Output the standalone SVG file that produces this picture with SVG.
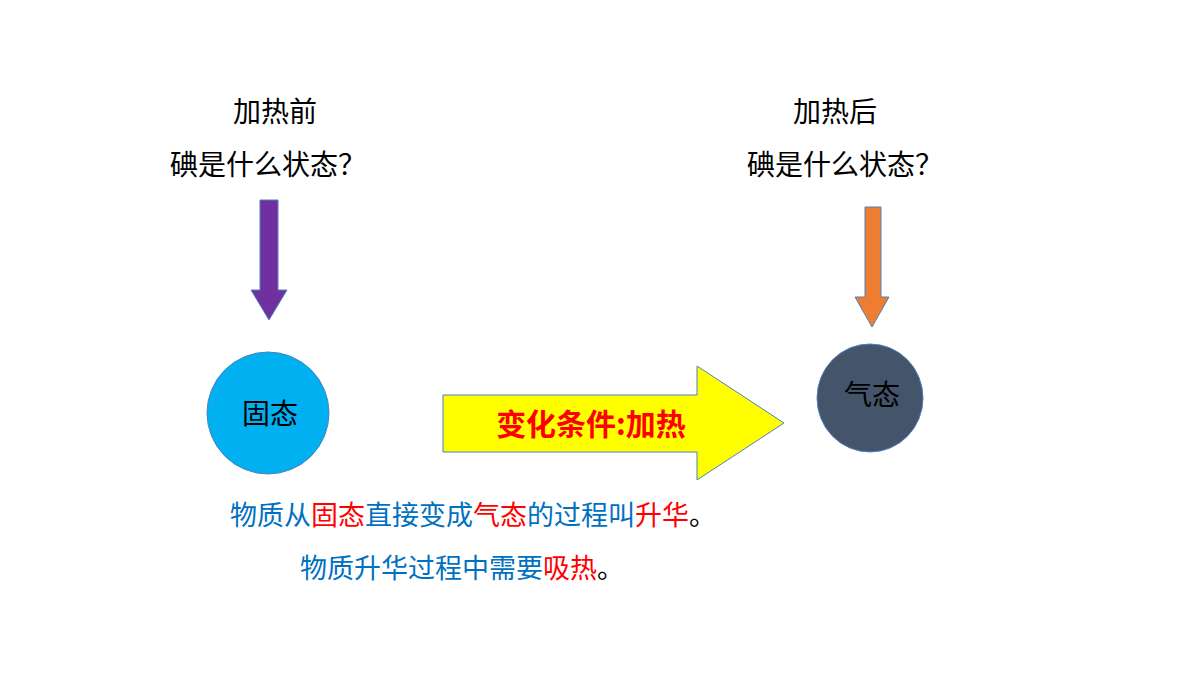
<svg xmlns="http://www.w3.org/2000/svg" width="1200" height="675" viewBox="0 0 1200 675">
<style>
.t{font-family:"Noto Sans CJK SC","Noto Serif CJK SC",serif;font-size:28px;fill:#000}
.b{font-family:"Noto Sans CJK SC",sans-serif;font-size:27px;fill:#0070c0}
.r{fill:#ff0000}
</style>
<rect width="1200" height="675" fill="#fff"/>
<g id="labels">
<text class="t" x="275" y="122" text-anchor="middle">加热前</text>
<text class="t" x="268" y="175" text-anchor="middle">碘是什么状态？</text>
<text class="t" x="835" y="122" text-anchor="middle">加热后</text>
<text class="t" x="845" y="175" text-anchor="middle">碘是什么状态？</text>
</g>
<g id="connectors">
<polygon points="260,200 278,200 278,290 287,290 269,320 251,290 260,290" fill="#7030a0" stroke="#4f81bd" stroke-width="1"/>
<polygon points="865,207 881,207 881,297 889,297 872,327 855,297 865,297" fill="#ed7d31" stroke="#4f81bd" stroke-width="1"/>
<polygon points="443,395 697,395 697,366 784,423 697,480 697,452 443,452" fill="#ffff00" stroke="#4f81bd" stroke-width="1"/>
<text x="591" y="435" text-anchor="middle" font-family="'Noto Sans CJK SC',sans-serif" font-weight="bold" font-size="30" fill="#ff0000">变化条件:加热</text>
</g>
<g id="solid">
<ellipse cx="268" cy="413" rx="61" ry="61" fill="#00b0f0" stroke="#4f81bd"/>
<text class="t" x="270" y="424" text-anchor="middle">固态</text>
</g>
<g id="gas">
<ellipse cx="870" cy="398" rx="53" ry="54" fill="#44546a" stroke="#4f81bd"/>
<text class="t" x="872" y="405" text-anchor="middle">气态</text>
</g>
<g id="notes">
<text class="b" x="230" y="525">物质从<tspan class="r">固态</tspan>直接变成<tspan class="r">气态</tspan>的过程叫<tspan class="r">升华</tspan><tspan fill="#000">。</tspan></text>
<text class="b" x="300" y="578">物质升华过程中需要<tspan class="r">吸热</tspan><tspan fill="#000">。</tspan></text>
</g>
</svg>
